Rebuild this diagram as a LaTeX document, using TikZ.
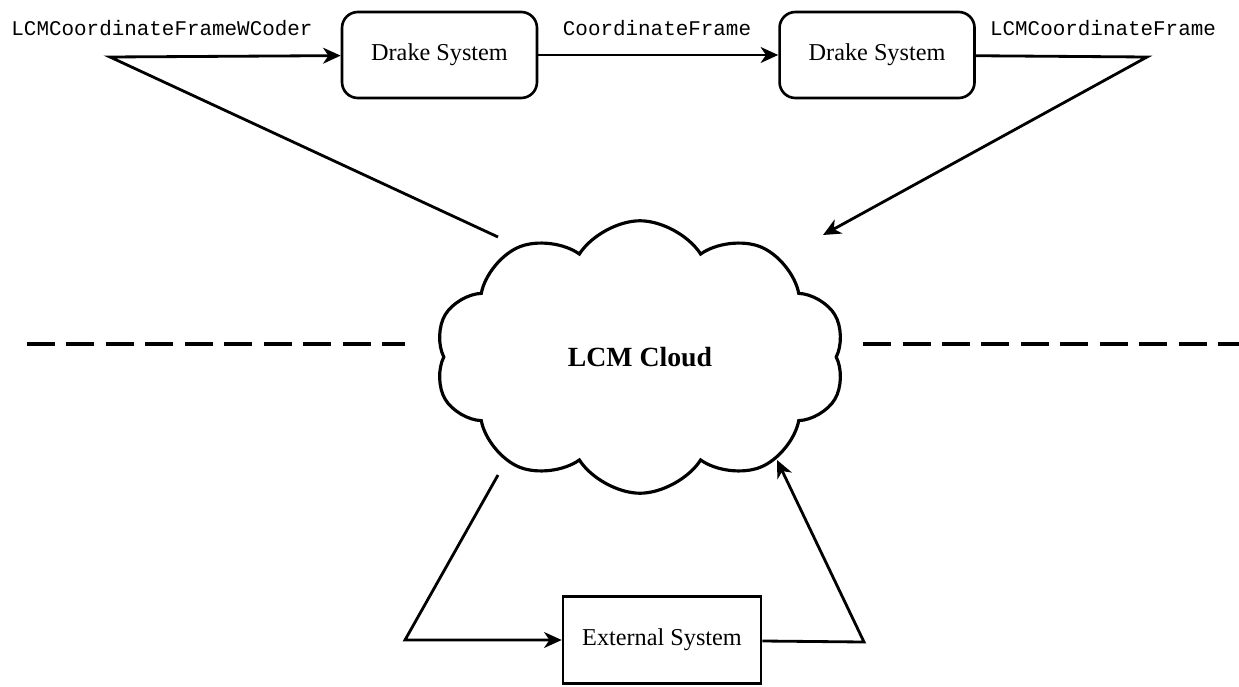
\documentclass[tikz,border=0pt]{standalone}
\usepackage{fontspec}
\setmainfont{Liberation Serif}
\setmonofont{Liberation Mono}
\usetikzlibrary{arrows.meta,positioning,shapes.symbols}

\begin{document}
\begin{tikzpicture}[
  x=0.02cm, y=-0.02cm,
  sys/.style={rectangle, draw, line width=1.5pt, rounded corners=9pt, minimum width=3.9cm, minimum height=1.72cm, font=\fontsize{13.8}{16}\selectfont},
  msg/.style={font=\ttfamily\fontsize{11.9}{14}\selectfont, inner sep=0pt},
  wire/.style={line width=1.6pt},
  node distance=4.8cm,
  >={Stealth[length=10pt,width=9pt,inset=3pt]}
]
\useasboundingbox (0,0) rectangle (1239,686);

\node[sys] (drake1) at (439.5,55) {Drake System};
\node[sys, right=of drake1] (drake2) {Drake System};
\node[cloud, draw, cloud puffs=10, cloud puff arc=115, aspect=1.5, line width=1.8pt, minimum width=8.2cm, minimum height=5.45cm, font=\bfseries\fontsize{15.8}{18}\selectfont] (lcm) at (640,357) {LCM Cloud};
\node[sys, rounded corners=0pt, minimum width=3.96cm, minimum height=1.74cm] (ext) at (662,640) {External System};

\node[msg] (wcoder) at (162,28) {LCMCoordinateFrameWCoder};
\node[msg] (frame) at (657,28) {CoordinateFrame};
\node[msg] (lcmframe) at (1103,28) {LCMCoordinateFrame};

\coordinate (tl) at (110,57);
\coordinate (tr) at (1147,57);
\coordinate (bl) at (405,640);
\coordinate (br) at (864,642);
\coordinate (cA) at (498,237);
\coordinate (cB) at (823,235);
\coordinate (cC) at (498,475);
\coordinate (cD) at (777,460);

\draw[wire,->] (cA) -- (tl) -- (drake1);
\draw[wire,->] (drake1) -- (drake2);
\draw[wire,->] (drake2) -- (tr) -- (cB);
\draw[wire,->] (cC) -- (bl) -- (ext);
\draw[wire,->] (ext) -- (br) -- (cD);

% separator
\coordinate (sl0) at (27,344);
\coordinate (sl1) at (405,344);
\coordinate (sr0) at (863,344);
\coordinate (sr1) at (1239,344);
\draw[line width=2.3pt, dash pattern=on 0.56cm off 0.23cm] (sl0) -- (sl1);
\draw[line width=2.3pt, dash pattern=on 0.56cm off 0.23cm] (sr0) -- (sr1);
\end{tikzpicture}
\end{document}
